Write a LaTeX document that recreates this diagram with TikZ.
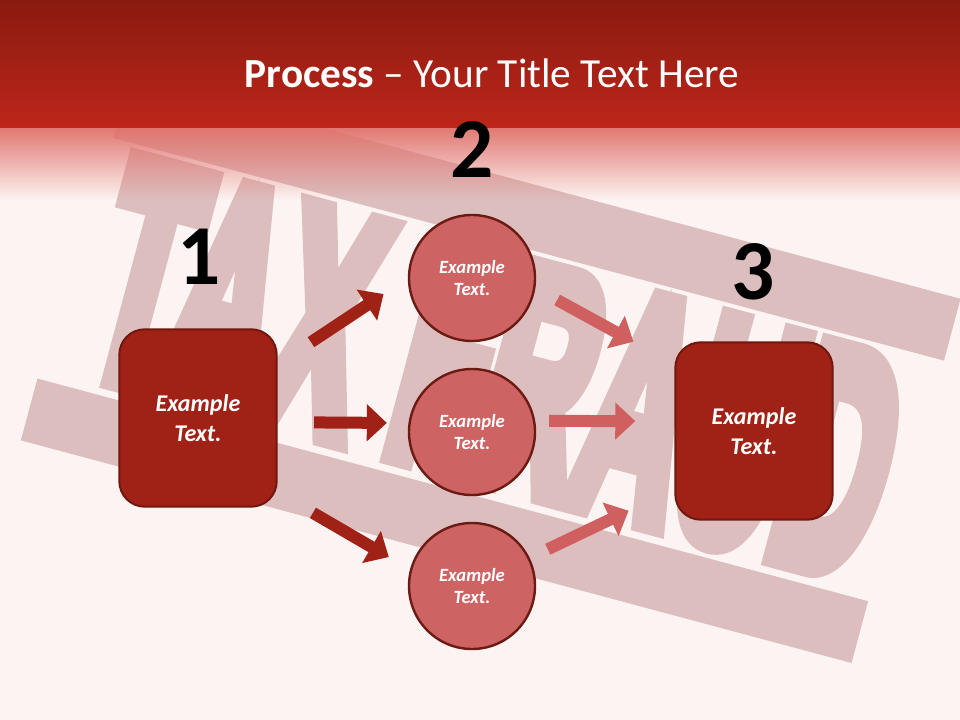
\documentclass[tikz,border=0pt]{standalone}
\usepackage{fontspec}
\setmainfont{Carlito}
\newfontfamily\stampfont{Liberation Sans}[BoldFeatures={FakeBold=9}]
\definecolor{slidebg}{RGB}{252,244,242}
\definecolor{headtop}{RGB}{137,26,16}
\definecolor{headbot}{RGB}{190,38,26}
\definecolor{fadered}{RGB}{224,112,106}
\definecolor{stampgray}{RGB}{221,190,191}
\definecolor{boxred}{RGB}{160,33,22}
\definecolor{boxedge}{RGB}{112,24,16}
\definecolor{circred}{RGB}{205,99,99}
\definecolor{circedge}{RGB}{108,26,20}
\definecolor{arrowpink}{RGB}{208,96,96}
\usetikzlibrary{arrows.meta, shapes, positioning, fadings}

\tikzset{
  stepbox/.style={rectangle, rounded corners=19pt, draw=boxedge, line width=1.5pt,
    fill=boxred, minimum width=118pt, minimum height=133pt, text=white,
    font=\fontsize{18}{22}\selectfont\bfseries\itshape, align=center},
  stepcirc/.style={circle, draw=circedge, line width=1.8pt, fill=circred,
    minimum size=94.5pt, inner sep=0pt, text=white,
    font=\fontsize{14}{17}\selectfont\bfseries\itshape, align=center},
  numlabel/.style={anchor=base, font=\fontsize{64}{64}\selectfont\bfseries},
  darkarrow/.style={->, draw=boxred, line width=9pt},
  pinkarrow/.style={->, draw=arrowpink, line width=9pt}
}

\begin{document}
\begin{tikzpicture}[x=0.75pt, y=-0.75pt, >={Triangle[width=27pt,length=15pt]}]
      \useasboundingbox (0,0) rectangle (960,720);
      % Background
      \fill[slidebg] (0,0) rectangle (960,720);
      % Stamp
      \begin{scope}[shift={(496,371)}, rotate=-15]
        \fill[stampgray] (-430,-190) rectangle (430,-126);
        \fill[stampgray] (-441,126) rectangle (419,190);
        \node[text=stampgray, inner sep=0pt, rotate=-15, xscale=0.46,
          font=\stampfont\bfseries\fontsize{232}{232}\selectfont] (stamp) at (0,0) {TAX FRAUD};
      \end{scope}
      % Header
      \fill[fadered, path fading=south, fill opacity=0.95] (0,127) rectangle (960,200);
      \shade[top color=headtop, bottom color=headbot] (0,0) rectangle (960,128);
      \node[anchor=base, text=white, font=\fontsize{31}{37}\selectfont] (title) at (492,88)
        {\textbf{Process} – Your Title Text Here};
      % Steps
      \node[stepbox] (box1) at (198,418) {Example\\Text.};
      \node[stepcirc] (c1) at (472,278) {Example\\Text.};
      \node[stepcirc] (c2) at (472,432) {Example\\Text.};
      \node[stepcirc] (c3) at (472,586) {Example\\Text.};
      \node[stepbox] (box3) at (754,431) {Example\\Text.};
      % Numbers
      \node[numlabel] (n1) at (199,285) {1};
      \node[numlabel] (n2) at (472,178) {2};
      \node[numlabel] (n3) at (753,300) {3};
      % Arrows
      \draw[darkarrow, shorten <=30pt, shorten >=21.8pt] (box1.34) -- (c1.180);
      \draw[darkarrow, shorten <=27.4pt, shorten >=16.2pt] (box1.-3) -- (c2.172);
      \draw[darkarrow, shorten <=30.6pt, shorten >=18.4pt] (box1.-43) -- (c3.165);
      \draw[pinkarrow, shorten <=18.6pt, shorten >=35pt] (c1.-9) -- (box3.140);
      \draw[pinkarrow, shorten <=10.5pt, shorten >=29.3pt] (c2.10) -- (box3.173);
      \draw[pinkarrow, shorten <=15pt, shorten >=38pt] (c3.26) -- (box3.216);
\end{tikzpicture}
\end{document}
